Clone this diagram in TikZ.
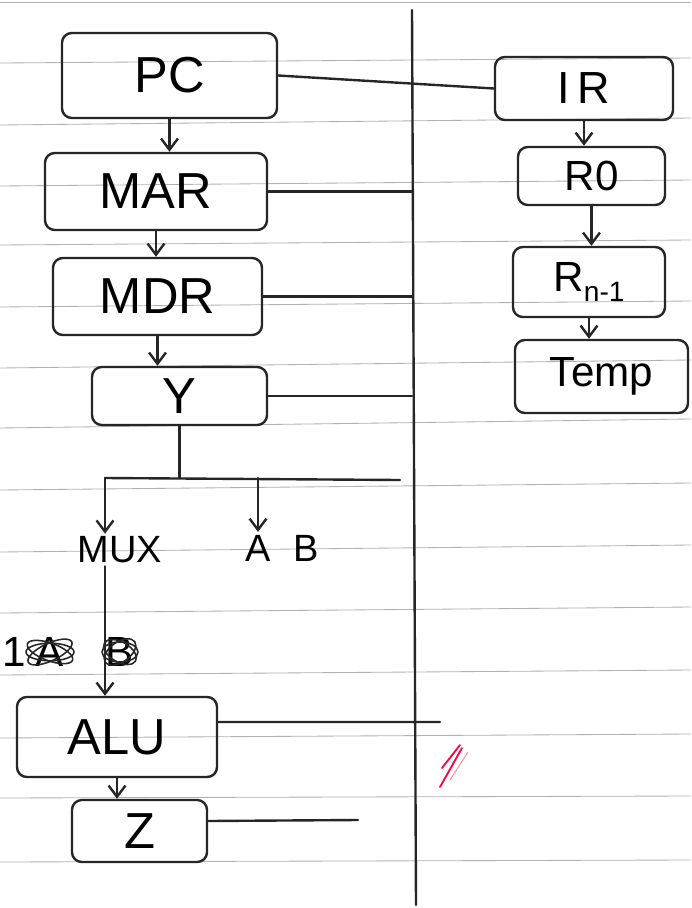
\documentclass[tikz,border=0pt]{standalone}
\usepackage{fontspec}
\setmainfont{Liberation Sans}
\usetikzlibrary{arrows.meta, positioning}

\begin{document}
\begin{tikzpicture}[x=0.025cm, y=-0.025cm, >={Straight Barb[length=8pt,width=12pt]},
  ink/.style={line width=1.7pt, draw=black!85, line cap=round, line join=round},
  reg/.style={ink, rounded corners=7pt, inner sep=0pt, font=\fontsize{36}{40}\selectfont},
  tag/.style={font=\fontsize{27}{30}\selectfont, inner sep=2pt},
  rule/.style={draw=black!30, line width=0.6pt}]
  \useasboundingbox[fill=white] (0,0) rectangle (691,908);
  % ── Ruled paper ──────────────────────────────────────────────
  \draw[rule] (0,2) -- (691,2);
  \foreach \yl/\yr in {63/58, 125/118, 186/180, 245/240, 307/301, 368/360, 428/419,
                        490/483, 552/545, 613/607, 675/670, 738/734, 798/796, 862/860}
    \draw[rule] (0,\yl) -- (691,\yr);
  % ── Bus line down the middle ─────────────────────────────────
  \coordinate (bustop) at (412,10);
  \coordinate (busbot) at (416,905);
  \draw[ink] (bustop) -- (busbot);
  % ── Left column of registers ─────────────────────────────────
  \node[reg, minimum width=5.375cm, minimum height=2.125cm] (PC)  at (169.5,75.5) {PC};
  \node[reg, minimum width=5.55cm,  minimum height=1.925cm] (MAR) at (156,191.5)  {MAR};
  \node[reg, minimum width=5.225cm, minimum height=1.925cm] (MDR) at (157.5,296.5){MDR};
  \node[reg, minimum width=4.375cm, minimum height=1.45cm]  (Y)   at (179.5,396)  {Y};
  \node[reg, minimum width=5cm,     minimum height=2cm]     (ALU) at (117,737)    {ALU};
  \node[reg, minimum width=3.375cm, minimum height=1.55cm]  (Z)   at (139.5,831)  {Z};
  \foreach \a/\b in {PC/MAR, MAR/MDR, MDR/Y, ALU/Z}
    \draw[ink,->] (\a.south) -- (\a.south |- \b.north);
  % ── Right column of registers ────────────────────────────────
  \node[reg, minimum width=4.45cm,  minimum height=1.575cm, font=\fontsize{32}{36}\selectfont]
    (IR) at (584,88.5) {I\,R};
  \node[reg, minimum width=3.675cm, minimum height=1.45cm, font=\fontsize{30}{34}\selectfont]
    (R0) at (591.5,176) {R0};
  \node[reg, minimum width=3.8cm,   minimum height=1.75cm, font=\fontsize{30}{34}\selectfont]
    (Rn) at (589,282) {R\raisebox{-0.45ex}{\fontsize{20}{22}\selectfont n-1}};
  \node[reg, minimum width=4.325cm, minimum height=1.825cm, font=\fontsize{30}{34}\selectfont]
    (Temp) at (601.5,376.5) {Temp};
  \foreach \a/\b in {IR/R0, R0/Rn, Rn/Temp}
    \draw[ink,->] (\a.south) -- (\a.south |- \b.north);
  % ── Taps onto the bus ────────────────────────────────────────
  \draw[ink] (PC.east) -- (IR.west);
  \foreach \r in {MAR, MDR, Y}
    \draw[ink] (\r.east) -- (\r.east -| bustop);
  \coordinate (aluend) at (440,722);
  \coordinate (zend) at (358,820);
  \draw[ink] ([yshift=0.375cm]ALU.east) -- (aluend);
  \draw[ink] ([yshift=0.25cm]Z.east) -- (zend);
  % ── Y output split to MUX and A/B ────────────────────────────
  \node[tag] (MUX) at (120,550) {MUX};
  \node[tag] (A) at (258,548) {A};
  \node[tag] (B) at (306,548) {B};
  \coordinate (forkL) at (105,478);
  \coordinate (forkR) at (400,480);
  \draw[ink] (Y.south) -- (Y.south |- forkL);
  \draw[ink] (forkL) -- (forkR);
  \draw[ink,->] (forkL) -- (forkL |- MUX.north);
  \draw[ink,->] (A.north |- forkL) -- (A.north);
  \draw[ink,->] (MUX.south -| forkL) -- (forkL |- ALU.north);
  % select line, crossed out
  \node[tag, font=\fontsize{30}{32}\selectfont] (selone) at (14,652) {1};
  \node[tag, font=\fontsize{30}{32}\selectfont] (selA) at (50,652) {A};
  \node[tag, font=\fontsize{30}{32}\selectfont] (selB) at (120,652) {B};
  \foreach \ang in {0, 25, -20}
    \draw[ink, line width=1.1pt, rotate around={\ang:(selA)}] (selA) ellipse [x radius=0.6cm, y radius=0.22cm];
  \foreach \ang in {0, 35, -30}
    \draw[ink, line width=1.1pt, rotate around={\ang:(selB)}] (selB) ellipse [x radius=0.45cm, y radius=0.25cm];
  % ── Red tick ─────────────────────────────────────────────────
  \draw[line width=1.3pt, draw=red!75!magenta, line cap=round] (442,768) -- (460,745);
  \draw[line width=1.3pt, draw=red!75!magenta, line cap=round] (440,787) -- (462,748);
  \draw[line width=0.8pt, draw=red!40, line cap=round] (450,780) -- (468,752);
\end{tikzpicture}
\end{document}
